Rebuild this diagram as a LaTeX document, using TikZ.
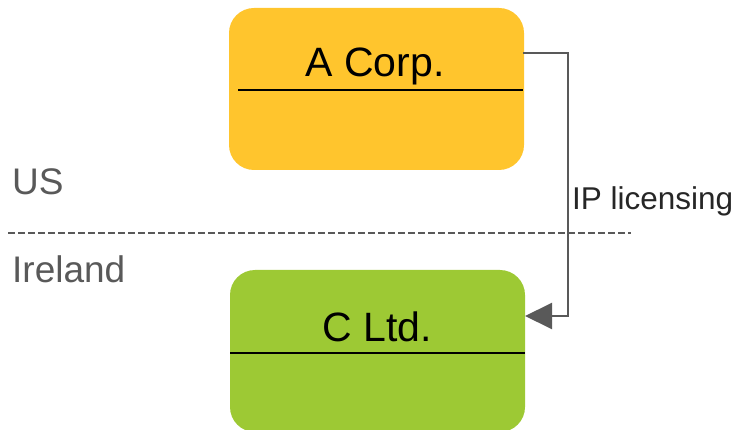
\documentclass[tikz,border=0pt]{standalone}
\usepackage{fontspec}
\setmainfont{Liberation Sans}
\usetikzlibrary{arrows.meta}
\definecolor{boxyellow}{RGB}{255,197,45}
\definecolor{boxgreen}{RGB}{157,201,52}
\definecolor{linegray}{RGB}{89,89,89}
\definecolor{labelgray}{RGB}{89,89,89}
\definecolor{textdark}{RGB}{38,38,38}
\tikzset{
  entity/.style={rounded corners=25pt, minimum width=295pt, inner sep=0pt, draw=none},
  divider/.style={draw=black, line width=1.3pt},
  title/.style={anchor=base, inner sep=0pt, font=\fontsize{41}{48}\selectfont, text=black},
  region/.style={anchor=base west, inner sep=0pt, font=\fontsize{37}{43}\selectfont, text=labelgray},
  flow/.style={draw=linegray, line width=2pt, -{Triangle[length=27pt,width=26pt]}},
  border/.style={draw=linegray, line width=2pt, dash pattern=on 7pt off 3pt},
}
\begin{document}
\begin{tikzpicture}[x=1pt,y=-1pt]
\useasboundingbox (0,0) rectangle (734,430);
% boxes
\node[entity, fill=boxyellow, minimum height=162pt] (A) at (376.5,89) {};
\node[entity, fill=boxgreen, minimum height=162pt] (C) at (377.5,351) {};
% dividers
\coordinate (ad1) at (238,90);
\coordinate (ad2) at (523,90);
\draw[divider] (ad1) -- (ad2);
\coordinate (cd1) at (230,353);
\coordinate (cd2) at (525,353);
\draw[divider] (cd1) -- (cd2);
% titles
\node[title] (At) at (375,77) {A Corp.};
\node[title] (Ct) at (377,342) {C Ltd.};
% region labels
\node[region] (us) at (12,195) {US};
\node[region] (ie) at (12,283) {Ireland};
% border line
\coordinate (b1) at (8,233);
\coordinate (b2) at (631,233);
\draw[border] (b1) -- (b2);
% connector
\coordinate (s) at (523,53);
\coordinate (k1) at (568,53);
\coordinate (k2) at (568,316);
\coordinate (e) at (525,316);
\draw[flow] (s) -- (k1) -- (k2) -- (e);
\node[anchor=base west, inner sep=0pt, font=\fontsize{31.5}{36}\selectfont, text=textdark] (ip) at (572,210) {IP licensing};
\end{tikzpicture}
\end{document}
